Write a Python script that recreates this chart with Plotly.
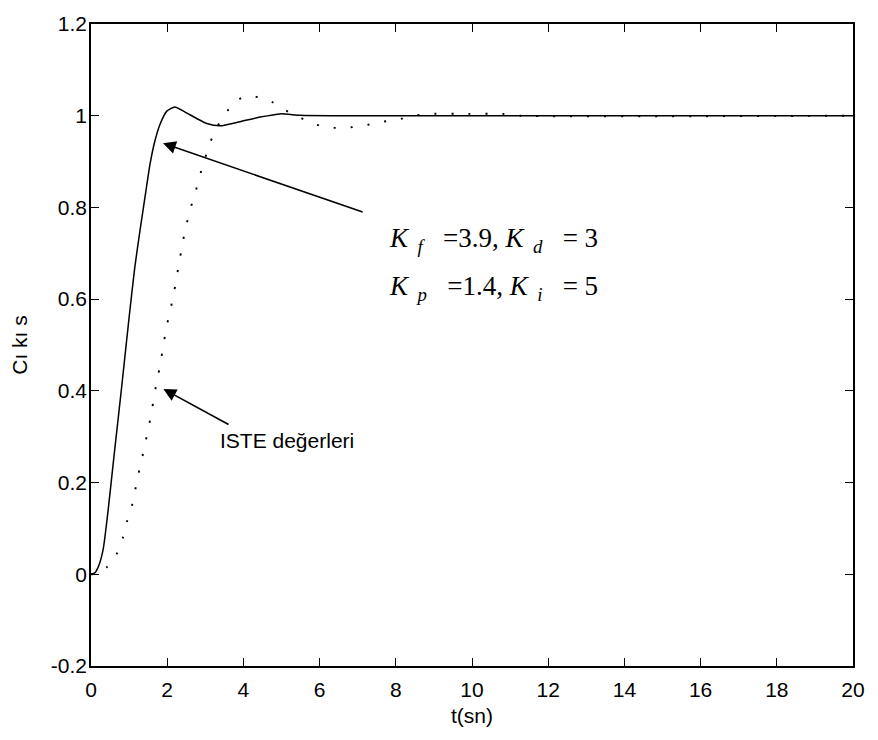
import plotly.graph_objects as go

# Step responses of the closed loop (time in seconds)
t_pid = [0, 0.1, 0.2, 0.32, 0.45, 0.6, 0.8, 1.0, 1.15, 1.29, 1.42, 1.55, 1.68, 1.81, 1.99,
         2.2, 2.47, 2.75, 3.04, 3.39, 3.91, 4.44, 4.96, 5.49, 6.5, 20]
y_pid = [0, 0.003, 0.018, 0.055, 0.14, 0.255, 0.405, 0.56, 0.67, 0.752, 0.824, 0.895, 0.946,
         0.981, 1.01, 1.019, 1.008, 0.995, 0.983, 0.978, 0.987, 0.997, 1.004, 1.001, 1.0, 1.0]

t_iste = [0, 0.2, 0.41, 0.67, 0.83, 0.94, 1.07, 1.16, 1.25, 1.35, 1.44, 1.53, 1.61, 1.68, 1.77,
          1.85, 1.92, 2.0, 2.1, 2.19, 2.34, 2.42, 2.51, 2.62, 2.75, 2.86, 2.99, 3.12, 3.3, 3.52,
          3.82, 4.1, 4.65, 5.0, 5.4, 5.79, 6.23, 6.71, 7.15, 7.58, 8.02, 8.46, 8.92, 9.9, 10.8,
          11.26, 20]
y_iste = [0, 0.003, 0.015, 0.044, 0.078, 0.114, 0.148, 0.184, 0.22, 0.257, 0.292, 0.328, 0.364,
          0.40, 0.437, 0.474, 0.51, 0.546, 0.583, 0.62, 0.692, 0.729, 0.764, 0.80, 0.836, 0.87,
          0.906, 0.94, 0.974, 1.004, 1.033, 1.043, 1.035, 1.016, 1.0, 0.984, 0.974, 0.974, 0.978,
          0.986, 0.991, 1.0, 1.004, 1.004, 1.004, 1.0, 1.0]

x_ticks = [0, 2, 4, 6, 8, 10, 12, 14, 16, 18, 20]
y_ticks = [-0.2, 0, 0.2, 0.4, 0.6, 0.8, 1.0, 1.2]
y_tick_text = ["-0.2", "0", "0.2", "0.4", "0.6", "0.8", "1", "1.2"]

SANS = "Liberation Sans, Arial, sans-serif"
SERIF = "Liberation Serif, Times New Roman, serif"

fig = go.Figure()
fig.add_trace(go.Scatter(x=t_pid, y=y_pid, mode="lines",
                         line=dict(color="black", width=1.5, shape="spline", smoothing=0.6),
                         showlegend=False))
fig.add_trace(go.Scatter(x=t_iste, y=y_iste, mode="lines",
                         line=dict(color="black", width=1.9, dash="2px,15px",
                                   shape="spline", smoothing=0.6),
                         showlegend=False))

axis_common = dict(showline=True, linecolor="black", linewidth=1.5, mirror="allticks",
                   ticks="inside", ticklen=8, tickwidth=1.2, tickcolor="black",
                   showgrid=False, zeroline=False,
                   tickfont=dict(family=SANS, size=21, color="black"))

fig.update_xaxes(range=[0, 20], tickvals=x_ticks, ticklabelstandoff=4,
                 title=dict(text="t(sn)", font=dict(family=SANS, size=21, color="black"),
                            standoff=8),
                 **axis_common)
fig.update_yaxes(range=[-0.2, 1.2], tickvals=y_ticks, ticktext=y_tick_text,
                 ticklabelstandoff=-2,
                 title=dict(text="Cı kı s", font=dict(family=SANS, size=21, color="black"),
                            standoff=18),
                 **axis_common)

# Pointer arrows
fig.add_annotation(x=1.89, y=0.94, ax=7.17, ay=0.789, xref="x", yref="y", axref="x", ayref="y",
                   text="", showarrow=True, arrowhead=2, arrowsize=1.6, arrowwidth=1.6,
                   arrowcolor="black")
fig.add_annotation(x=1.90, y=0.404, ax=3.65, ay=0.325, xref="x", yref="y", axref="x", ayref="y",
                   text="", showarrow=True, arrowhead=2, arrowsize=1.6, arrowwidth=1.6,
                   arrowcolor="black")

# Labels
fig.add_annotation(x=3.33, y=0.291, xref="x", yref="y", text="ISTE değerleri", showarrow=False,
                   xanchor="left", yanchor="middle",
                   font=dict(family=SANS, size=21, color="black"))
fig.add_annotation(x=7.78, y=0.729, xref="x", yref="y",
                   text=("<i>K</i><sub>&nbsp;&nbsp;<i>f</i></sub>&nbsp;&nbsp;&nbsp;=3.9, "
                         "<i>K</i><sub>&nbsp;&nbsp;<i>d</i></sub>&nbsp;&nbsp;&nbsp;= 3"),
                   showarrow=False, xanchor="left", yanchor="middle",
                   font=dict(family=SERIF, size=27, color="black"))
fig.add_annotation(x=7.78, y=0.624, xref="x", yref="y",
                   text=("<i>K</i><sub>&nbsp;&nbsp;<i>p</i></sub>&nbsp;&nbsp;&nbsp;=1.4, "
                         "<i>K</i><sub>&nbsp;&nbsp;<i>i</i></sub>&nbsp;&nbsp;&nbsp;= 5"),
                   showarrow=False, xanchor="left", yanchor="middle",
                   font=dict(family=SERIF, size=27, color="black"))

fig.update_layout(width=878, height=740, margin=dict(l=91, r=25, t=15, b=74),
                  paper_bgcolor="white", plot_bgcolor="white")

fig.write_html("out.html")
